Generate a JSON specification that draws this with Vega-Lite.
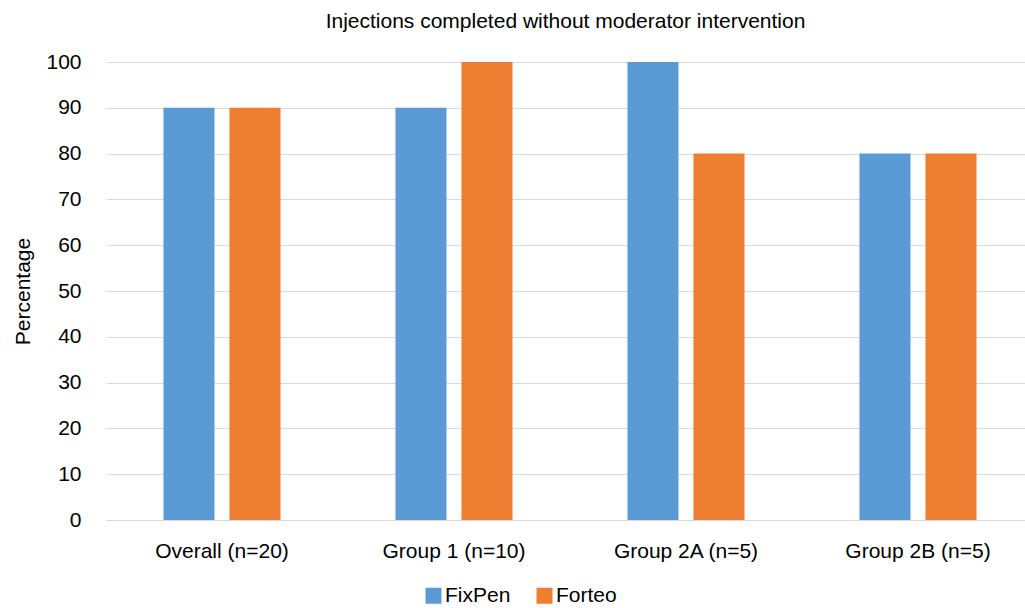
{
  "$schema": "https://vega.github.io/schema/vega-lite/v6.json",
  "autosize": {"type": "none"},
  "width": 919,
  "height": 458,
  "padding": {"left": 106, "top": 62, "right": 0, "bottom": 88},
  "background": "white",
  "title": {
    "text": "Injections completed without moderator intervention",
    "fontSize": 21,
    "font": "Liberation Sans",
    "fontWeight": "normal",
    "color": "#000000",
    "anchor": "middle",
    "offset": 19
  },
  "data": {
    "values": [
      {"group": "Overall (n=20)", "device": "FixPen", "pct": 90},
      {"group": "Overall (n=20)", "device": "Forteo", "pct": 90},
      {"group": "Group 1 (n=10)", "device": "FixPen", "pct": 90},
      {"group": "Group 1 (n=10)", "device": "Forteo", "pct": 100},
      {"group": "Group 2A (n=5)", "device": "FixPen", "pct": 100},
      {"group": "Group 2A (n=5)", "device": "Forteo", "pct": 80},
      {"group": "Group 2B (n=5)", "device": "FixPen", "pct": 80},
      {"group": "Group 2B (n=5)", "device": "Forteo", "pct": 80}
    ]
  },
  "mark": {"type": "bar"},
  "encoding": {
    "x": {
      "field": "group",
      "type": "nominal",
      "sort": null,
      "scale": {"range": [0, 928], "paddingInner": 0, "paddingOuter": 0},
      "axis": {
        "title": null,
        "labelAngle": 0,
        "labelFont": "Liberation Sans",
        "labelFontSize": 21,
        "labelColor": "#000000",
        "labelPadding": 20,
        "ticks": false,
        "domainColor": "#d9d9d9",
        "domainWidth": 1
      }
    },
    "xOffset": {
      "field": "device",
      "type": "nominal",
      "scale": {"paddingInner": 0.227, "paddingOuter": 0.871}
    },
    "y": {
      "field": "pct",
      "type": "quantitative",
      "scale": {"domain": [0, 100], "nice": false},
      "axis": {
        "title": "Percentage",
        "titleFont": "Liberation Sans",
        "titleFontSize": 21,
        "titleFontWeight": "normal",
        "titleColor": "#000000",
        "titlePadding": 12,
        "values": [0, 10, 20, 30, 40, 50, 60, 70, 80, 90, 100],
        "labelFont": "Liberation Sans",
        "labelFontSize": 21,
        "labelColor": "#000000",
        "labelPadding": 25,
        "ticks": false,
        "domain": false,
        "gridColor": "#d9d9d9",
        "gridWidth": 1
      }
    },
    "color": {
      "field": "device",
      "type": "nominal",
      "scale": {"domain": ["FixPen", "Forteo"], "range": ["#5b9bd5", "#ed7d31"]},
      "legend": {
        "title": null,
        "orient": "none",
        "legendX": 317,
        "legendY": 523,
        "direction": "horizontal",
        "symbolType": "square",
        "symbolSize": 256,
        "symbolStrokeWidth": 0,
        "labelFont": "Liberation Sans",
        "labelFontSize": 21,
        "labelColor": "#000000",
        "columnPadding": 23,
        "labelOffset": 1
      }
    }
  },
  "config": {"view": {"stroke": null}}
}
